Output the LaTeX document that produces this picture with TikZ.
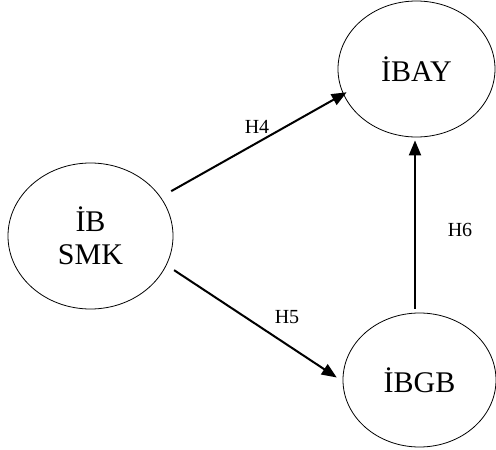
\documentclass[tikz,border=0pt]{standalone}
\usepackage{fontspec}
\setmainfont{Liberation Serif}
\usetikzlibrary{arrows.meta,shapes.geometric}

\tikzset{
  construct/.style={draw, ellipse, line width=0.8pt, inner sep=0pt,
    align=center, font=\fontsize{30}{33}\selectfont},
  path arrow/.style={line width=2pt, -{Triangle[length=15pt,width=12pt]}},
  hyp/.style={font=\fontsize{20}{24}\selectfont}
}

\begin{document}
\begin{tikzpicture}[x=1pt, y=-1pt]
  \useasboundingbox (0,0) rectangle (496,450);

  % constructs
  \node[construct, minimum width=165pt, minimum height=146pt] (smk) at (90.5,236) {İB\\SMK};
  \node[construct, minimum width=157pt, minimum height=136pt] (ibay) at (416.5,69) {İBAY};
  \node[construct, minimum width=153pt, minimum height=134pt] (ibgb) at (419.5,380) {İBGB};

  % hypothesised paths
  \draw[path arrow, shorten <=12pt, shorten >=-4pt] (smk.29) -- (ibay.199.4);
  \draw[path arrow, shorten <=9pt, shorten >=7pt] (smk.-21.7) -- (ibgb.181);
  \draw[path arrow] ([xshift=-4.5pt, yshift=4pt]ibgb.north) -- ([xshift=-1.5pt, yshift=-3pt]ibay.south);

  % path labels
  \node[hyp] (h4) at (257,127) {H4};
  \node[hyp] (h5) at (287,317) {H5};
  \node[hyp] (h6) at (460,230) {H6};
\end{tikzpicture}
\end{document}
